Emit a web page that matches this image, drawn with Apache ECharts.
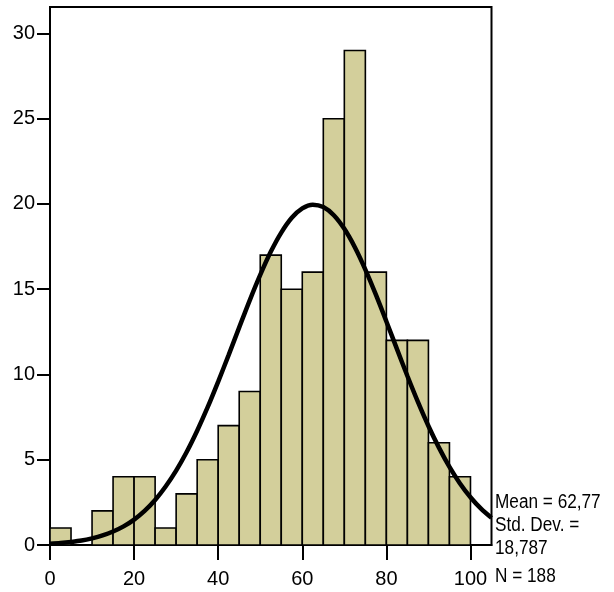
<!DOCTYPE html>
<html>
<head>
<meta charset="utf-8">
<script src="https://cdn.jsdelivr.net/npm/echarts@6/dist/echarts.min.js"></script>
<style>
html,body{margin:0;padding:0;background:#fff;}
#c{width:614px;height:592px;}
</style>
</head>
<body>
<div id="c"></div>
<script>
// Histogram bins (lower edges) and counts
var binStarts = [0,5,10,15,20,25,30,35,40,45,50,55,60,65,70,75,80,85,90,95];
var binWidth = 5;
var counts = [1,0,2,4,4,1,3,5,7,9,17,15,16,25,29,16,12,12,6,4];
// Normal curve, values
var curveX = [0,2.5,5,7.5,10,12.5,15,17.5,20,22.5,25,27.5,30,32.5,35,37.5,40,42.5,45,47.5,50,52.5,55,57.5,60,62.5,65,67.5,70,72.5,75,77.5,80,82.5,85,87.5,90,92.5,95,97.5,100,102.5,105];
var curveY = [0.08,0.12,0.18,0.26,0.39,0.56,0.79,1.09,1.49,2.00,2.64,3.43,4.36,5.45,6.70,8.08,9.58,11.15,12.76,14.35,15.84,17.19,18.32,19.19,19.74,19.96,19.82,19.34,18.54,17.46,16.15,14.68,13.11,11.50,9.91,8.39,6.98,5.71,4.58,3.61,2.80,2.13,1.59];
var xTicks = [0,20,40,60,80,100];
var yTicks = [0,5,10,15,20,25,30];
var statsLines = ['Mean = 62,77','Std. Dev. =','18,787','N = 188'];

var histData = binStarts.map(function(s,i){return [s, s+binWidth, counts[i]];});
var curveData = curveX.map(function(x,i){return [x, curveY[i]];});

var font = '"Liberation Sans", Arial, sans-serif';
var chart = echarts.init(document.getElementById('c'));
chart.setOption({
  animation:false,
  backgroundColor:'#fff',
  grid:{left:50,right:122.5,top:7,bottom:47,show:true,borderColor:'#000',borderWidth:2,backgroundColor:'transparent'},
  xAxis:{
    type:'value',min:0,max:105,
    axisLine:{show:true,onZero:false,lineStyle:{color:'#000',width:2}},
    axisTick:{show:true,length:15,lineStyle:{color:'#000',width:2},customValues:xTicks},
    axisLabel:{color:'#000',fontSize:20,fontFamily:font,margin:24,customValues:xTicks},
    splitLine:{show:false}
  },
  yAxis:{
    type:'value',min:0,max:31.55,
    axisLine:{show:true,lineStyle:{color:'#000',width:2}},
    axisTick:{show:true,length:13,lineStyle:{color:'#000',width:2},customValues:yTicks},
    axisLabel:{color:'#000',fontSize:20,fontFamily:font,margin:15,customValues:yTicks},
    splitLine:{show:false}
  },
  series:[
    {
      type:'custom',
      data:histData,
      z:2,
      renderItem:function(params,api){
        var s=api.value(0), e=api.value(1), v=api.value(2);
        if(v<=0) return null;
        var p0=api.coord([s,0]), p1=api.coord([e,v]);
        return {type:'rect',shape:{x:p0[0],y:p1[1],width:p1[0]-p0[0],height:p0[1]-p1[1]},
          style:{fill:'#d3cf9b',stroke:'#000',lineWidth:1.6}};
      }
    },
    {
      type:'line',
      data:curveData,
      smooth:0.3,
      showSymbol:false,
      symbol:'none',
      z:3,
      lineStyle:{color:'#000',width:4.5}
    }
  ],
  graphic: statsLines.map(function(t,i){
    return {type:'text',x:495,y:[502,525,548,576][i],scaleX:0.86,
      style:{text:t,fill:'#000',font:'20px '+font,textVerticalAlign:'middle',textAlign:'left'}};
  })
});
</script>
</body>
</html>
